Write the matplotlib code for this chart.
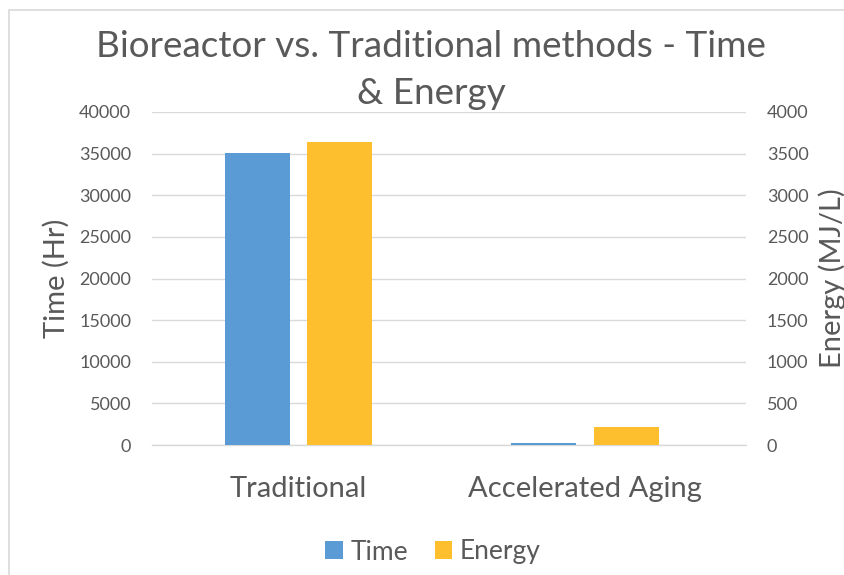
import matplotlib.pyplot as plt
from matplotlib.patches import Rectangle
import numpy as np

# data
categories = ['Traditional', 'Accelerated Aging']
time_hr = [35040, 288]        # left axis
energy_mjl = [3640, 220]      # right axis

time_ticks = np.arange(0, 40001, 5000)
energy_ticks = np.arange(0, 4001, 500)

blue = '#5B9BD5'
gold = '#FDBF2D'
grey_txt = '#595959'
grid_col = '#D9D9D9'

plt.rcParams['font.family'] = ['Lato', 'DejaVu Sans']

W, H = 845, 575
fig = plt.figure(figsize=(W / 100, H / 100), dpi=100)

# chart frame
fig.patches.append(Rectangle((9.5 / W, -0.02), 1.1, 1 - 9.5 / H + 0.02,
                             transform=fig.transFigure, fill=False,
                             edgecolor='#D9D9D9', linewidth=1.2))

ax = fig.add_axes([152 / W, 1 - 445 / H, 594 / W, 333 / H])
ax2 = ax.twinx()

x = np.arange(len(categories))
bw = 0.2265
off = 0.143

ax.bar(x - off, time_hr, width=bw, color=blue, label='Time', zorder=3)
ax2.bar(x + off, energy_mjl, width=bw, color=gold, label='Energy', zorder=3)

ax.set_xlim(-0.509, 1.561)
ax.set_ylim(0, 40000)
ax2.set_ylim(0, 4000)
ax.set_yticks(time_ticks)
ax2.set_yticks(energy_ticks)
ax.set_xticks(x)
ax.set_xticklabels(categories)

ax.yaxis.grid(True, color=grid_col, linewidth=1.0, zorder=0)
ax.set_axisbelow(True)
for a in (ax, ax2):
    for s in a.spines.values():
        s.set_visible(False)
ax.spines['bottom'].set_visible(True)
ax.spines['bottom'].set_color(grid_col)
ax.spines['bottom'].set_linewidth(1.0)

ax.tick_params(axis='y', length=0, pad=15, labelsize=13, labelcolor=grey_txt)
ax2.tick_params(axis='y', length=0, pad=15, labelsize=13, labelcolor=grey_txt)
ax.tick_params(axis='x', length=0, pad=22, labelsize=21, labelcolor=grey_txt)

fig.text(56 / W, 1 - 278 / H, 'Time (Hr)', rotation=90, ha='center', va='center',
         fontsize=21, color=grey_txt)
fig.text(832 / W, 1 - 278 / H, 'Energy (MJ/L)', rotation=90, ha='center', va='center',
         fontsize=21, color=grey_txt)

fig.text(431 / W, 1 - 57 / H, 'Bioreactor vs. Traditional methods - Time',
         ha='center', va='baseline', fontsize=26.6, color=grey_txt)
fig.text(431 / W, 1 - 104 / H, '& Energy',
         ha='center', va='baseline', fontsize=26.6, color=grey_txt)

h1, l1 = ax.get_legend_handles_labels()
h2, l2 = ax2.get_legend_handles_labels()
fig.legend(h1 + h2, l1 + l2, loc='center', bbox_to_anchor=(433 / W, 1 - 552 / H),
           ncol=2, frameon=False, fontsize=19, labelcolor=grey_txt,
           handlelength=0.65, handleheight=0.65, handletextpad=0.3, columnspacing=1.0)

fig.savefig('out.png', dpi=100)
